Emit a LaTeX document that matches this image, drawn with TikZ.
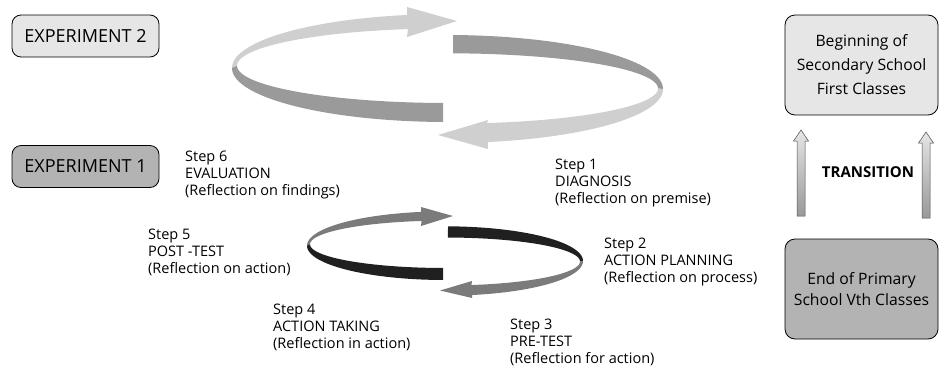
\documentclass[tikz,border=0pt]{standalone}
\usepackage{fontspec}
\setmainfont{Open Sans}
\usetikzlibrary{calc}
\definecolor{bigLight}{HTML}{CFCFCF}
\definecolor{bigDark}{HTML}{9A9A9A}
\definecolor{smGray}{HTML}{7B7B7B}
\definecolor{smBlack}{HTML}{202020}
\definecolor{boxLight}{HTML}{E6E6E6}
\definecolor{boxDark}{HTML}{B3B3B3}
\begin{document}
\begin{tikzpicture}[x=1pt,y=-1pt,
  expbox/.style={draw=black, line width=0.8pt, rounded corners=9pt, minimum width=147pt, minimum height=42pt, inner sep=0pt, font=\fontsize{18}{20}\selectfont},
  stagebox/.style={draw=black, line width=0.8pt, rounded corners=10pt, minimum width=153pt, minimum height=100pt, inner sep=0pt, align=center},
  steplabel/.style={anchor=base west, align=left, inner sep=0pt, font=\fontsize{14.5}{17}\selectfont},
  transarrow/.style={draw=black!70, line width=0.5pt, top color=white!90!black, bottom color=black!40}
]
\useasboundingbox (0,0) rectangle (940,367);

% ---------- Experiment 2 spiral (large) ----------
\fill[bigLight] (457,21) -- (407,7)
  -- plot[domain=100.83:180, samples=50] ({447.5+215.5*cos(\x)},{68-54*sin(\x)})
  -- plot[domain=180:100.83, samples=50] ({447.5+210.5*cos(\x)},{65.7-37.3*sin(\x)})
  -- (407,37) -- cycle;
\fill[bigDark] plot[domain=180:268.8, samples=50] ({447.5+215.5*cos(\x)},{68-54*sin(\x)})
  -- plot[domain=268.8:180, samples=50] ({447.5+210.5*cos(\x)},{65.7-37.3*sin(\x)}) -- cycle;
\fill[bigDark] plot[domain=88.5:0, samples=50] ({447.5+215.5*cos(\x)},{89-54*sin(\x)})
  -- plot[domain=0:88.5, samples=50] ({447.5+210.5*cos(\x)},{88.5-35.2*sin(\x)}) -- cycle;
\fill[bigLight] plot[domain=0:-79.2, samples=50] ({447.5+215.5*cos(\x)},{89-54*sin(\x)})
  -- (488,149) -- (438,135) -- (488,120)
  -- plot[domain=-79.2:0, samples=50] ({447.5+210.5*cos(\x)},{88.5-35.2*sin(\x)}) -- cycle;

% ---------- Experiment 1 spiral (small) ----------
\fill[smGray] (453,216) -- (421,207)
  -- plot[domain=100:180, samples=50] ({445+138*cos(\x)},{245.7-34.3*sin(\x)})
  -- plot[domain=180:100, samples=50] ({445+135*cos(\x)},{244.3-23.7*sin(\x)})
  -- (421,226) -- cycle;
\fill[smBlack] plot[domain=180:269.2, samples=50] ({445+138*cos(\x)},{245.7-34.3*sin(\x)})
  -- plot[domain=269.2:180, samples=50] ({445+135*cos(\x)},{244.3-23.7*sin(\x)}) -- cycle;
\fill[smBlack] plot[domain=88.75:0, samples=50] ({445+138*cos(\x)},{261-34.7*sin(\x)})
  -- plot[domain=0:88.75, samples=50] ({445+135*cos(\x)},{261.5-24*sin(\x)}) -- cycle;
\fill[smGray] plot[domain=0:-78.7, samples=50] ({445+138*cos(\x)},{261-34.7*sin(\x)})
  -- (472,298) -- (440,290.5) -- (472,281)
  -- plot[domain=-78.7:0, samples=50] ({445+135*cos(\x)},{261.5-24*sin(\x)}) -- cycle;

% ---------- boxes ----------
\node[expbox, fill=boxLight] (exp2) at (85.5,36) {EXPERIMENT 2};
\node[expbox, fill=boxDark] (exp1) at (85.5,166.5) {EXPERIMENT 1};

\node[stagebox, fill=boxLight, font=\fontsize{15.7}{24}\selectfont] (secondary) at (861.5,65) {Beginning of\\Secondary School\\First Classes};
\node[stagebox, fill=boxDark, font=\fontsize{15.7}{21}\selectfont] (primary) at (861.5,289) {End of Primary\\School Vth Classes};

% ---------- transition arrows ----------
\draw[transarrow] (797,216) -- (797,141) -- (793.5,141) -- (801,130) -- (808.5,141) -- (805,141) -- (805,216) -- cycle;
\draw[transarrow] (922,218) -- (922,143) -- (918.5,143) -- (926,132) -- (933.5,143) -- (930,143) -- (930,218) -- cycle;
\node[font=\fontsize{15}{18}\selectfont\bfseries] (transition) at (868,172) {TRANSITION};

% ---------- step labels (anchored at last line's baseline) ----------
\node[steplabel] (s6) at (185,195) {Step 6\\EVALUATION\\(Reflection on findings)};
\node[steplabel] (s1) at (555,203) {Step 1\\DIAGNOSIS\\(Reflection on premise)};
\node[steplabel] (s5) at (148,273) {Step 5\\POST -TEST\\(Reflection on action)};
\node[steplabel] (s4) at (273,348) {Step 4\\ACTION TAKING\\(Reflection in action)};
\node[steplabel] (s2) at (604,282) {Step 2\\ACTION PLANNING\\(Reflection on process)};
\node[steplabel] (s3) at (510,363) {Step 3\\PRE-TEST\\(Reflection for action)};
\end{tikzpicture}
\end{document}
